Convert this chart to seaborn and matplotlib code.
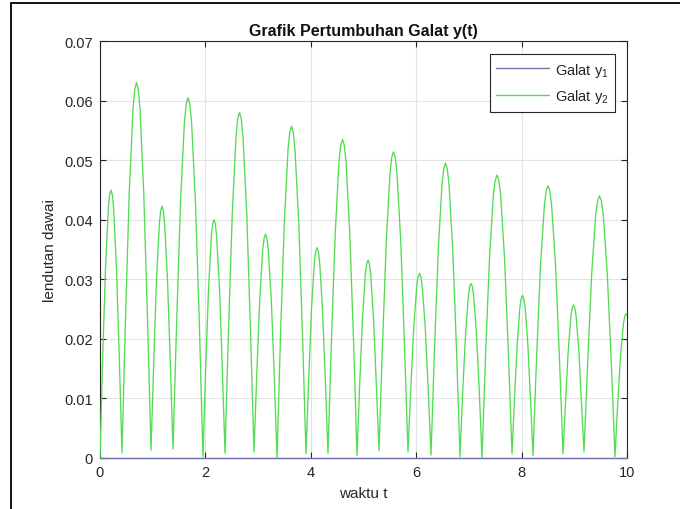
import matplotlib
matplotlib.use("Agg")
import matplotlib.pyplot as plt
import seaborn as sns
import pandas as pd
from matplotlib.lines import Line2D

# ---- data ----
t_vals = [
    0.000, 0.050, 0.104, 0.158, 0.183, 0.209, 0.234, 0.259, 0.313, 0.367,
    0.417, 0.483, 0.555, 0.626, 0.659, 0.693, 0.726, 0.759, 0.830, 0.902,
    0.968, 1.018, 1.072, 1.126, 1.151, 1.177, 1.202, 1.227, 1.281, 1.335,
    1.385, 1.453, 1.527, 1.601, 1.635, 1.670, 1.704, 1.738, 1.812, 1.886,
    1.954, 2.004, 2.059, 2.113, 2.138, 2.163, 2.188, 2.213, 2.268, 2.322,
    2.372, 2.438, 2.510, 2.581, 2.614, 2.647, 2.680, 2.713, 2.785, 2.856,
    2.922, 2.974, 3.031, 3.088, 3.114, 3.141, 3.167, 3.193, 3.250, 3.307,
    3.359, 3.425, 3.497, 3.568, 3.601, 3.634, 3.667, 3.700, 3.772, 3.843,
    3.909, 3.959, 4.013, 4.067, 4.092, 4.118, 4.143, 4.168, 4.222, 4.276,
    4.326, 4.392, 4.464, 4.535, 4.568, 4.602, 4.635, 4.668, 4.739, 4.811,
    4.877, 4.927, 4.981, 5.035, 5.060, 5.086, 5.111, 5.136, 5.190, 5.244,
    5.294, 5.360, 5.432, 5.503, 5.536, 5.569, 5.602, 5.635, 5.707, 5.778,
    5.844, 5.896, 5.953, 6.010, 6.036, 6.063, 6.089, 6.115, 6.172, 6.229,
    6.281, 6.347, 6.419, 6.490, 6.523, 6.556, 6.589, 6.622, 6.694, 6.765,
    6.831, 6.881, 6.936, 6.990, 7.015, 7.040, 7.065, 7.090, 7.145, 7.199,
    7.249, 7.317, 7.391, 7.465, 7.499, 7.534, 7.568, 7.602, 7.676, 7.750,
    7.818, 7.866, 7.918, 7.969, 7.993, 8.017, 8.041, 8.065, 8.117, 8.168,
    8.216, 8.284, 8.359, 8.433, 8.467, 8.501, 8.535, 8.569, 8.644, 8.718,
    8.786, 8.834, 8.886, 8.937, 8.961, 8.985, 9.009, 9.033, 9.085, 9.136,
    9.184, 9.255, 9.331, 9.407, 9.443, 9.478, 9.513, 9.549, 9.625, 9.701,
    9.772, 9.822, 9.877, 9.932, 9.957, 9.982, 10.000,
]
galat_y2 = [
    0.0000, 0.0166, 0.0318, 0.0419, 0.0442, 0.0450, 0.0442, 0.0419, 0.0318, 0.0166,
    0.0008, 0.0232, 0.0445, 0.0586, 0.0619, 0.0630, 0.0619, 0.0586, 0.0445, 0.0232,
    0.0013, 0.0156, 0.0299, 0.0393, 0.0415, 0.0423, 0.0415, 0.0393, 0.0299, 0.0156,
    0.0015, 0.0223, 0.0428, 0.0563, 0.0594, 0.0605, 0.0594, 0.0563, 0.0428, 0.0223,
    0.0002, 0.0147, 0.0283, 0.0372, 0.0393, 0.0400, 0.0393, 0.0372, 0.0283, 0.0147,
    0.0008, 0.0213, 0.0410, 0.0539, 0.0570, 0.0580, 0.0570, 0.0539, 0.0410, 0.0213,
    0.0010, 0.0138, 0.0266, 0.0350, 0.0369, 0.0376, 0.0369, 0.0350, 0.0266, 0.0138,
    0.0000, 0.0205, 0.0394, 0.0518, 0.0547, 0.0557, 0.0547, 0.0518, 0.0394, 0.0205,
    0.0007, 0.0130, 0.0250, 0.0328, 0.0347, 0.0353, 0.0347, 0.0328, 0.0250, 0.0130,
    0.0008, 0.0197, 0.0378, 0.0498, 0.0525, 0.0535, 0.0525, 0.0498, 0.0378, 0.0197,
    0.0004, 0.0122, 0.0235, 0.0309, 0.0326, 0.0332, 0.0326, 0.0309, 0.0235, 0.0122,
    0.0012, 0.0189, 0.0363, 0.0478, 0.0505, 0.0514, 0.0505, 0.0478, 0.0363, 0.0189,
    0.0010, 0.0114, 0.0219, 0.0288, 0.0304, 0.0310, 0.0304, 0.0288, 0.0219, 0.0114,
    0.0005, 0.0182, 0.0350, 0.0460, 0.0486, 0.0495, 0.0486, 0.0460, 0.0350, 0.0182,
    0.0002, 0.0108, 0.0207, 0.0272, 0.0288, 0.0293, 0.0288, 0.0272, 0.0207, 0.0108,
    0.0000, 0.0175, 0.0336, 0.0442, 0.0466, 0.0475, 0.0466, 0.0442, 0.0336, 0.0175,
    0.0007, 0.0100, 0.0193, 0.0254, 0.0268, 0.0273, 0.0268, 0.0254, 0.0193, 0.0100,
    0.0004, 0.0168, 0.0323, 0.0425, 0.0449, 0.0457, 0.0449, 0.0425, 0.0323, 0.0168,
    0.0007, 0.0095, 0.0182, 0.0239, 0.0252, 0.0257, 0.0252, 0.0239, 0.0182, 0.0095,
    0.0010, 0.0162, 0.0311, 0.0409, 0.0432, 0.0440, 0.0432, 0.0409, 0.0311, 0.0162,
    0.0002, 0.0089, 0.0171, 0.0225, 0.0238, 0.0242, 0.0240,
]
t_y1 = [0.0, 10.0]
galat_y1 = [0.0, 0.0]

x_ticks = [0, 2, 4, 6, 8, 10]
y_ticks = [0, 0.01, 0.02, 0.03, 0.04, 0.05, 0.06, 0.07]
y_tick_labels = ["0", "0.01", "0.02", "0.03", "0.04", "0.05", "0.06", "0.07"]

title_text = "Grafik Pertumbuhan Galat y(t)"
x_label = "waktu t"
y_label = "lendutan dawai"
legend_labels = [r"Galat y$_{\mathregular{1}}$", r"Galat y$_{\mathregular{2}}$"]

# ---- style ----
sns.set_style("white")
plt.rcParams["font.family"] = ["Liberation Sans", "DejaVu Sans"]
plt.rcParams["mathtext.fontset"] = "custom"
plt.rcParams["mathtext.rm"] = "Liberation Sans"
plt.rcParams["mathtext.it"] = "Liberation Sans:italic"

c_y1 = "#7575a8"
c_y2 = "#52dc52"
axis_col = "#262626"

fig = plt.figure(figsize=(6.8, 5.1), dpi=100)
ax = fig.add_axes([100 / 680, 1 - 459 / 510, 527 / 680, 417 / 510])

df2 = pd.DataFrame({"t": t_vals, "y": galat_y2})
df1 = pd.DataFrame({"t": t_y1, "y": galat_y1})

sns.lineplot(data=df1, x="t", y="y", ax=ax, color=c_y1, lw=1.0,
             estimator=None, sort=False, zorder=3)
sns.lineplot(data=df2, x="t", y="y", ax=ax, color=c_y2, lw=0.95,
             estimator=None, sort=False, zorder=4)
ax.lines[0].set_clip_on(False)

ax.set_xlim(0, 10)
ax.set_ylim(0, 0.07)
ax.set_xticks(x_ticks)
ax.set_xticklabels([str(v) for v in x_ticks])
ax.set_yticks(y_ticks)
ax.set_yticklabels(y_tick_labels)

ax.grid(True, color="#e3e3e3", lw=0.8)
ax.set_axisbelow(True)
for s in ax.spines.values():
    s.set_visible(True)
    s.set_color(axis_col)
    s.set_linewidth(0.8)
ax.tick_params(axis="both", which="both", direction="in", length=4,
               width=0.8, color=axis_col, labelsize=10.5, labelcolor="#262626",
               top=True, right=True, bottom=True, left=True, pad=5)

ax.set_title(title_text, fontsize=11.5, fontweight="bold", pad=4.5, color="#111111")
ax.set_xlabel(x_label, fontsize=11, color="#262626", labelpad=5)
ax.set_ylabel(y_label, fontsize=11, color="#262626", labelpad=5)

handles = [Line2D([0], [0], color=c_y1, lw=1.0), Line2D([0], [0], color=c_y2, lw=1.0)]
leg = ax.legend(handles, legend_labels, loc="upper right",
                bbox_to_anchor=(615 / 680, 1 - 55 / 510), bbox_transform=fig.transFigure,
                fontsize=10.5, handlelength=3.6, handletextpad=0.4,
                borderaxespad=0, borderpad=0.45, labelspacing=0.6,
                fancybox=False, framealpha=1, edgecolor="#262626")
leg.get_frame().set_linewidth(0.8)

# outer screenshot frame (top and left lines)
fig.add_artist(Line2D([11 / 680, 1.0], [1 - 4 / 510, 1 - 4 / 510],
                      transform=fig.transFigure, color="black", lw=1.3))
fig.add_artist(Line2D([11 / 680, 11 / 680], [0, 1 - 4 / 510],
                      transform=fig.transFigure, color="black", lw=1.3))

fig.savefig("out.png", dpi=100)
